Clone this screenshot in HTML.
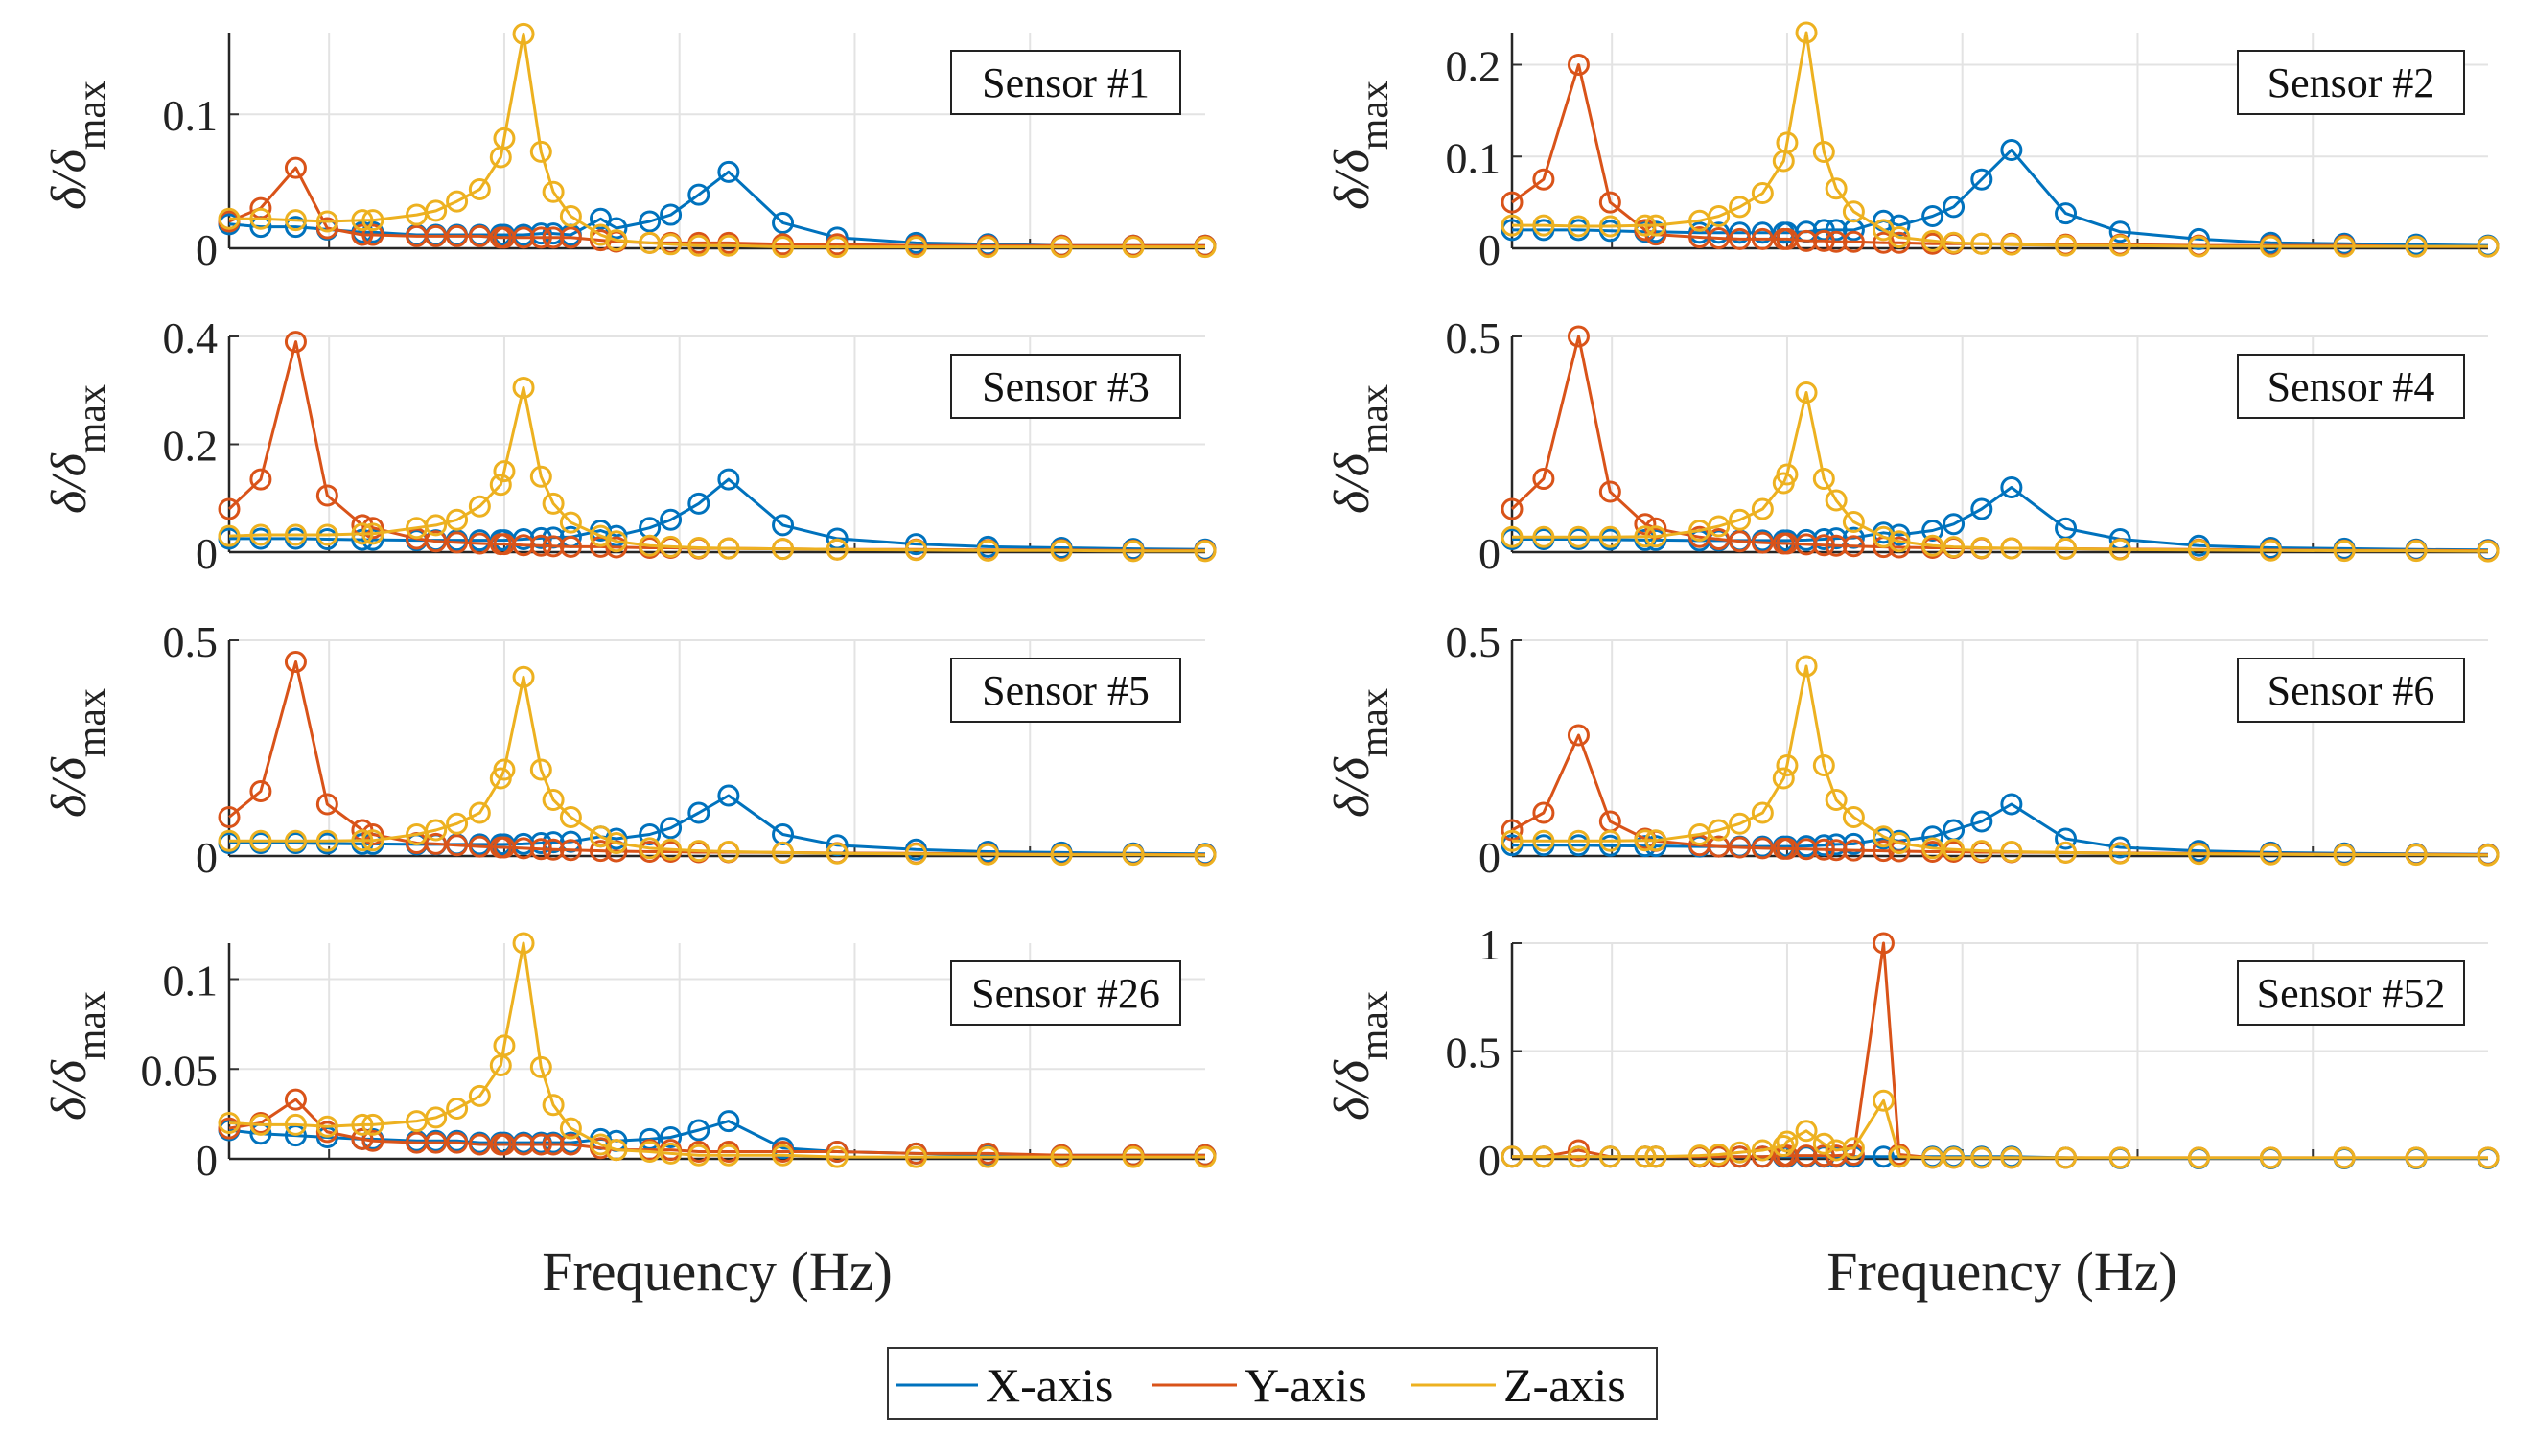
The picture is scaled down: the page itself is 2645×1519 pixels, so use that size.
<!DOCTYPE html>
<html><head><meta charset="utf-8"><style>
html,body{margin:0;padding:0;background:#fff;}
svg{display:block;font-family:"Liberation Serif","DejaVu Serif",serif;}
</style></head><body>
<svg id="chart" width="2645" height="1519" viewBox="0 0 2645 1519" xmlns="http://www.w3.org/2000/svg">
<rect width="2645" height="1519" fill="#fff"/>
<g id="panels"></g>
<text x="748" y="1346" font-size="58" text-anchor="middle" fill="#222">Frequency (Hz)</text>
<text x="2088" y="1346" font-size="58" text-anchor="middle" fill="#222">Frequency (Hz)</text>
<g>
<rect x="926" y="1406" width="802" height="74" fill="#fff" stroke="#333" stroke-width="2"/>
<g><line x1="934" y1="1445" x2="1020" y2="1445" stroke="#0072BD" stroke-width="3"/><text x="1028" y="1462" font-size="50" fill="#111">X-axis</text></g>
<g><line x1="1202" y1="1445" x2="1290" y2="1445" stroke="#D95319" stroke-width="3"/><text x="1298" y="1462" font-size="50" fill="#111">Y-axis</text></g>
<g><line x1="1472" y1="1445" x2="1560" y2="1445" stroke="#EDB120" stroke-width="3"/><text x="1568" y="1462" font-size="50" fill="#111">Z-axis</text></g>
</g>
</svg>
<script>
const freqs=[4.43,4.61,4.81,4.99,5.19,5.25,5.50,5.61,5.73,5.86,5.98,6.00,6.11,6.21,6.28,6.38,6.55,6.64,6.83,6.95,7.11,7.28,7.59,7.90,8.35,8.76,9.18,9.59,10.0];
const sensorNames=["Sensor #1","Sensor #2","Sensor #3","Sensor #4","Sensor #5","Sensor #6","Sensor #26","Sensor #52"];
const yMaxes=[0.161,0.235,0.4,0.5,0.5,0.5,0.12,1.0];
const yTicks=[[0,0.1],[0,0.1,0.2],[0,0.2,0.4],[0,0.5],[0,0.5],[0,0.5],[0,0.05,0.1],[0,0.5,1]];
const xVals=[
[0.018,0.016,0.016,0.014,0.012,0.012,0.010,0.010,0.010,0.010,0.010,0.010,0.010,0.011,0.011,0.010,0.022,0.015,0.020,0.025,0.040,0.057,0.019,0.008,0.004,0.003,0.002,0.002,0.002],
[0.020,0.020,0.020,0.019,0.018,0.018,0.017,0.017,0.017,0.017,0.017,0.017,0.018,0.020,0.020,0.020,0.030,0.025,0.035,0.045,0.075,0.107,0.038,0.018,0.010,0.006,0.005,0.004,0.003],
[0.025,0.025,0.025,0.024,0.023,0.023,0.022,0.022,0.022,0.022,0.022,0.022,0.024,0.026,0.027,0.028,0.040,0.030,0.045,0.060,0.090,0.135,0.050,0.025,0.015,0.010,0.008,0.006,0.005],
[0.030,0.030,0.030,0.029,0.028,0.028,0.027,0.027,0.027,0.027,0.027,0.027,0.028,0.030,0.032,0.033,0.045,0.040,0.050,0.065,0.100,0.150,0.055,0.030,0.015,0.010,0.008,0.006,0.005],
[0.030,0.030,0.030,0.029,0.028,0.028,0.027,0.027,0.027,0.027,0.027,0.027,0.028,0.030,0.032,0.033,0.045,0.040,0.050,0.065,0.100,0.140,0.050,0.025,0.015,0.010,0.008,0.006,0.005],
[0.025,0.025,0.025,0.024,0.023,0.023,0.022,0.022,0.022,0.022,0.022,0.022,0.023,0.025,0.027,0.028,0.040,0.035,0.045,0.060,0.080,0.120,0.040,0.020,0.012,0.008,0.006,0.005,0.004],
[0.016,0.014,0.013,0.012,0.011,0.011,0.010,0.010,0.010,0.009,0.009,0.009,0.009,0.009,0.009,0.009,0.011,0.010,0.011,0.012,0.016,0.021,0.006,0.004,0.003,0.002,0.002,0.002,0.002],
[0.010,0.010,0.010,0.010,0.010,0.010,0.010,0.010,0.010,0.010,0.010,0.010,0.010,0.010,0.010,0.010,0.010,0.010,0.010,0.010,0.010,0.010,0.005,0.003,0.002,0.002,0.002,0.002,0.002]];
const yVals=[
[0.020,0.030,0.060,0.015,0.010,0.010,0.009,0.009,0.009,0.009,0.008,0.008,0.008,0.008,0.008,0.008,0.006,0.005,0.004,0.004,0.004,0.004,0.003,0.003,0.002,0.002,0.002,0.002,0.002],
[0.050,0.075,0.200,0.050,0.020,0.015,0.012,0.011,0.010,0.010,0.010,0.010,0.008,0.008,0.007,0.007,0.006,0.006,0.005,0.005,0.005,0.005,0.004,0.004,0.003,0.003,0.003,0.002,0.002],
[0.080,0.135,0.390,0.105,0.050,0.045,0.025,0.020,0.018,0.016,0.015,0.015,0.013,0.012,0.011,0.010,0.010,0.009,0.008,0.008,0.007,0.007,0.006,0.005,0.005,0.004,0.004,0.003,0.003],
[0.100,0.170,0.500,0.140,0.065,0.055,0.035,0.030,0.025,0.022,0.020,0.020,0.018,0.016,0.015,0.014,0.012,0.011,0.010,0.010,0.009,0.009,0.008,0.007,0.006,0.005,0.004,0.004,0.003],
[0.090,0.150,0.450,0.120,0.060,0.050,0.030,0.028,0.025,0.022,0.020,0.020,0.018,0.016,0.015,0.014,0.012,0.011,0.010,0.010,0.009,0.009,0.008,0.007,0.006,0.005,0.004,0.004,0.003],
[0.060,0.100,0.280,0.080,0.040,0.035,0.025,0.022,0.020,0.018,0.017,0.017,0.016,0.015,0.014,0.013,0.012,0.011,0.010,0.010,0.009,0.009,0.008,0.007,0.006,0.005,0.004,0.004,0.003],
[0.017,0.020,0.033,0.015,0.011,0.010,0.009,0.009,0.009,0.008,0.008,0.008,0.008,0.008,0.008,0.008,0.006,0.005,0.005,0.005,0.004,0.004,0.004,0.004,0.003,0.003,0.002,0.002,0.002],
[0.010,0.010,0.040,0.010,0.010,0.010,0.010,0.010,0.010,0.010,0.015,0.015,0.015,0.015,0.015,0.020,1.000,0.020,0.005,0.005,0.005,0.005,0.005,0.005,0.005,0.005,0.005,0.005,0.005]];
const zVals=[
[0.022,0.022,0.021,0.020,0.021,0.021,0.025,0.028,0.035,0.044,0.068,0.082,0.160,0.072,0.042,0.024,0.010,0.006,0.004,0.003,0.002,0.002,0.001,0.001,0.001,0.001,0.001,0.001,0.001],
[0.025,0.025,0.024,0.024,0.025,0.025,0.030,0.035,0.045,0.060,0.095,0.115,0.235,0.105,0.065,0.040,0.020,0.012,0.008,0.006,0.005,0.004,0.003,0.003,0.002,0.002,0.002,0.002,0.002],
[0.030,0.032,0.032,0.032,0.034,0.034,0.045,0.050,0.060,0.085,0.125,0.150,0.305,0.140,0.090,0.055,0.030,0.020,0.012,0.010,0.008,0.007,0.006,0.005,0.004,0.003,0.003,0.002,0.002],
[0.035,0.035,0.035,0.035,0.036,0.036,0.050,0.060,0.075,0.100,0.160,0.180,0.370,0.170,0.120,0.070,0.035,0.025,0.015,0.012,0.010,0.009,0.008,0.006,0.005,0.004,0.003,0.003,0.002],
[0.035,0.035,0.035,0.035,0.036,0.036,0.050,0.060,0.075,0.100,0.180,0.200,0.415,0.200,0.130,0.090,0.045,0.030,0.018,0.015,0.012,0.010,0.008,0.006,0.005,0.004,0.003,0.003,0.002],
[0.035,0.035,0.035,0.035,0.036,0.036,0.050,0.060,0.075,0.100,0.180,0.210,0.440,0.210,0.130,0.090,0.045,0.030,0.018,0.015,0.012,0.010,0.008,0.006,0.005,0.004,0.003,0.003,0.002],
[0.020,0.019,0.019,0.018,0.019,0.019,0.021,0.023,0.028,0.035,0.052,0.063,0.120,0.051,0.030,0.017,0.008,0.005,0.004,0.003,0.002,0.002,0.002,0.001,0.001,0.001,0.001,0.001,0.001],
[0.010,0.010,0.010,0.010,0.010,0.010,0.015,0.020,0.030,0.040,0.060,0.080,0.130,0.070,0.040,0.050,0.270,0.010,0.005,0.005,0.005,0.005,0.005,0.005,0.005,0.005,0.005,0.005,0.005]];
const xGrid=[5,6,7,8,9];

const NS="http://www.w3.org/2000/svg";
const colors=["#0072BD","#D95319","#EDB120"];
const seriesNames=["x","y","z"];
const colLeft=[239,1577], plotW=1018;
const rowTop=[34,351,668,984], plotH=225;
const X0=4.43,X1=10.0;
function mk(tag,attrs,parent){const e=document.createElementNS(NS,tag);for(const k in attrs)e.setAttribute(k,attrs[k]);parent.appendChild(e);return e;}
const root=document.getElementById('panels');
for(let p=0;p<8;p++){
  const col=p%2,row=Math.floor(p/2);
  const L=colLeft[col],T=rowTop[row],B=T+plotH;
  const xs=v=>L+(v-X0)/(X1-X0)*plotW;
  const ys=v=>B-v/yMaxes[p]*plotH;
  const g=mk('g',{},root);
  
  
  xGrid.forEach(v=>{const l=mk('line',{x1:xs(v),x2:xs(v),y1:T,y2:B,stroke:'#e3e3e3','stroke-width':2},g);
    
    
    mk('line',{x1:xs(v),x2:xs(v),y1:B,y2:B-10,stroke:'#333','stroke-width':2},g);});
  yTicks[p].forEach(v=>{if(v>0){const l=mk('line',{x1:L,x2:L+plotW,y1:ys(v),y2:ys(v),stroke:'#e3e3e3','stroke-width':2},g);
    
    }
    mk('line',{x1:L,x2:L+10,y1:ys(v),y2:ys(v),stroke:'#333','stroke-width':2},g);
    const t=mk('text',{x:L-12,y:ys(v)+17,'font-size':46,'text-anchor':'end',fill:'#222'},g);
    
    
    t.textContent=String(v);});
  mk('line',{x1:L,x2:L,y1:T,y2:B,stroke:'#262626','stroke-width':2.5},g);
  mk('line',{x1:L,x2:L+plotW,y1:B,y2:B,stroke:'#262626','stroke-width':2.5},g);
  const yl=mk('text',{transform:`translate(${L-150},${T+plotH/2+5}) rotate(-90)`,'font-size':52,'text-anchor':'middle',fill:'#222'},g);
  
  
  yl.innerHTML='<tspan font-style="italic">δ/δ</tspan><tspan font-size="42" dy="20">max</tspan>';
  [xVals[p],yVals[p],zVals[p]].forEach((vals,si)=>{
    const sg=mk('g',{},g);
    
    
    const pts=vals.map((v,i)=>xs(freqs[i]).toFixed(1)+','+ys(v).toFixed(1)).join(' ');
    const pl=mk('polyline',{points:pts,fill:'none',stroke:colors[si],'stroke-width':3,'stroke-linejoin':'round'},sg);
    
    
    vals.forEach((v,i)=>{const c=mk('circle',{cx:xs(freqs[i]),cy:ys(v),r:10,fill:'none',stroke:colors[si],'stroke-width':3},sg);
      
      });
  });
  const bx=col===0?992:2334, bw=col===0?239:236;
  const by=T+19;
  const box=mk('g',{},g);
  
  
  mk('rect',{x:bx,y:by,width:bw,height:66,fill:'#fff',stroke:'#222','stroke-width':2},box);
  const st=mk('text',{x:bx+bw/2,y:by+48,'font-size':44,'text-anchor':'middle',fill:'#111'},box);
  st.textContent=sensorNames[p];
}
</script>
</body></html>
